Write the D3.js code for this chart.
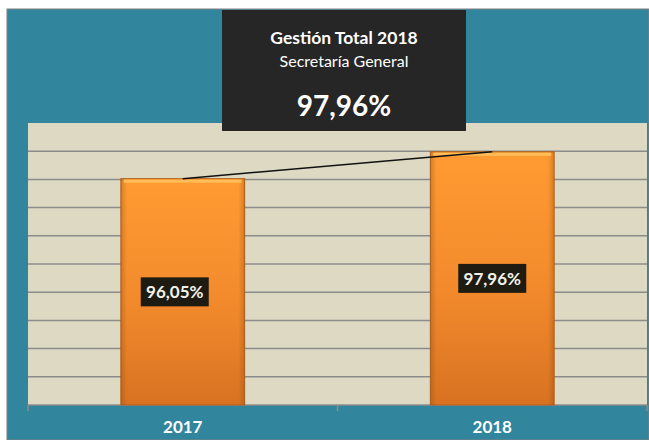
<!DOCTYPE html>
<html>
<head>
<meta charset="utf-8">
<script src="https://cdn.jsdelivr.net/npm/d3@7"></script>
<style>
  body { margin: 0; background: #fff; }
  svg { display: block; font-family: Lato, "Open Sans", sans-serif; }
</style>
</head>
<body>
<div id="chart"></div>
<script>
// data
const years = ["2017", "2018"];
const values = [96.05, 97.96];
const valueLabels = ["96,05%", "97,96%"];
const yTicks = [82, 84, 86, 88, 90, 92, 94, 96, 98];
const titleLines = ["Gestión Total 2018", "Secretaría General"];
const headline = "97,96%";

const W = 649, H = 440;
const plot = { left: 28, right: 647, top: 123, bottom: 405 };

const svg = d3.select("#chart").append("svg")
    .attr("width", W).attr("height", H);

const defs = svg.append("defs");
const vg = defs.append("linearGradient").attr("id", "barFill")
    .attr("x1", 0).attr("y1", 0).attr("x2", 0).attr("y2", 1);
vg.append("stop").attr("offset", "0%").attr("stop-color", "#ff9b32");
vg.append("stop").attr("offset", "55%").attr("stop-color", "#f28a2c");
vg.append("stop").attr("offset", "100%").attr("stop-color", "#d87222");

// darker edges on the sides, like the bevel
const hg = defs.append("linearGradient").attr("id", "barEdge")
    .attr("x1", 0).attr("y1", 0).attr("x2", 1).attr("y2", 0);
hg.append("stop").attr("offset", "0%").attr("stop-color", "#8a4a10").attr("stop-opacity", 0.35);
hg.append("stop").attr("offset", "5%").attr("stop-color", "#8a4a10").attr("stop-opacity", 0);
hg.append("stop").attr("offset", "95%").attr("stop-color", "#8a4a10").attr("stop-opacity", 0);
hg.append("stop").attr("offset", "100%").attr("stop-color", "#8a4a10").attr("stop-opacity", 0.35);

// teal background
svg.append("rect")
    .attr("x", 7).attr("y", 9).attr("width", W - 7).attr("height", H - 9)
    .attr("fill", "#31859c").attr("stroke", "#808080").attr("stroke-width", 1);

const x = d3.scaleBand().domain(years).range([plot.left, plot.right]);
const y = d3.scaleLinear().domain([80, 100]).range([plot.bottom, plot.top]);

// plot area
svg.append("rect")
    .attr("x", plot.left).attr("y", plot.top)
    .attr("width", plot.right - plot.left).attr("height", plot.bottom - plot.top)
    .attr("fill", "#ddd9c3");

svg.append("g").selectAll("line").data(yTicks).join("line")
    .attr("x1", plot.left).attr("x2", plot.right)
    .attr("y1", d => y(d)).attr("y2", d => y(d))
    .attr("stroke", "#8c8c8c").attr("stroke-width", 1.5);

// x axis line with ticks at band edges
const xAxis = svg.append("g").attr("transform", `translate(0,${plot.bottom})`);
xAxis.append("line").attr("x1", plot.left).attr("x2", plot.right)
    .attr("stroke", "#8c8c8c").attr("stroke-width", 1.5);
xAxis.selectAll(".tk").data([plot.left, x(years[1]), plot.right]).join("line")
    .attr("class", "tk")
    .attr("x1", d => d).attr("x2", d => d).attr("y1", 0).attr("y2", 6)
    .attr("stroke", "#8c8c8c").attr("stroke-width", 1.5);

// bars
const barW = x.bandwidth() * 0.4;
const bars = svg.append("g").selectAll("g").data(years).join("g");
bars.append("rect")
    .attr("x", (d, i) => x(d) + (x.bandwidth() - barW) / 2)
    .attr("y", (d, i) => y(values[i]))
    .attr("width", barW)
    .attr("height", (d, i) => y(80) - y(values[i]))
    .attr("fill", "url(#barFill)")
    .attr("stroke", "#b0611c").attr("stroke-width", 1);
bars.append("rect")
    .attr("x", (d, i) => x(d) + (x.bandwidth() - barW) / 2)
    .attr("y", (d, i) => y(values[i]))
    .attr("width", barW)
    .attr("height", (d, i) => y(80) - y(values[i]))
    .attr("fill", "url(#barEdge)");
bars.append("rect")
    .attr("x", (d, i) => x(d) + (x.bandwidth() - barW) / 2 + 3)
    .attr("y", (d, i) => y(values[i]) + 1)
    .attr("width", barW - 6)
    .attr("height", 3)
    .attr("fill", "#ffc45e").attr("opacity", 0.85);

// trend line between bar tops
const line = d3.line()
    .x((d, i) => x(years[i]) + x.bandwidth() / 2)
    .y(d => y(d));
svg.append("path").datum(values)
    .attr("d", line)
    .attr("fill", "none").attr("stroke", "#111").attr("stroke-width", 1.5);

// value labels in dark boxes at bar middle
const labelShift = [-8, 0];
const labels = svg.append("g").selectAll("g").data(years).join("g")
    .attr("transform", (d, i) => `translate(${x(d) + x.bandwidth() / 2 + labelShift[i]},${(y(values[i]) + y(80)) / 2})`);
labels.append("rect")
    .attr("x", -34).attr("y", -14.5).attr("width", 68).attr("height", 29)
    .attr("fill", "#1e1c12");
labels.append("text")
    .attr("text-anchor", "middle").attr("dy", "0.36em")
    .attr("font-size", 17).attr("font-weight", "bold")
    .attr("fill", "#f2f2ea")
    .text((d, i) => valueLabels[i]);

// category labels at the bottom edge
svg.append("g").selectAll("text").data(years).join("text")
    .attr("x", d => x(d) + x.bandwidth() / 2)
    .attr("y", 433)
    .attr("text-anchor", "middle")
    .attr("font-size", 17).attr("font-weight", "bold")
    .attr("fill", "#ffffff")
    .text(d => d);

// title box
const tb = svg.append("g");
tb.append("rect").attr("x", 222).attr("y", 10).attr("width", 244).attr("height", 121)
    .attr("fill", "#262626");
tb.append("text").attr("x", 344).attr("y", 44).attr("text-anchor", "middle")
    .attr("font-size", 17.5).attr("font-weight", "bold").attr("fill", "#fff")
    .text(titleLines[0]);
tb.append("text").attr("x", 344).attr("y", 67).attr("text-anchor", "middle")
    .attr("font-size", 16).attr("fill", "#fff")
    .text(titleLines[1]);
tb.append("text").attr("x", 344).attr("y", 116).attr("text-anchor", "middle")
    .attr("font-size", 28).attr("font-weight", "bold").attr("fill", "#fff")
    .text(headline);
</script>
</body>
</html>
